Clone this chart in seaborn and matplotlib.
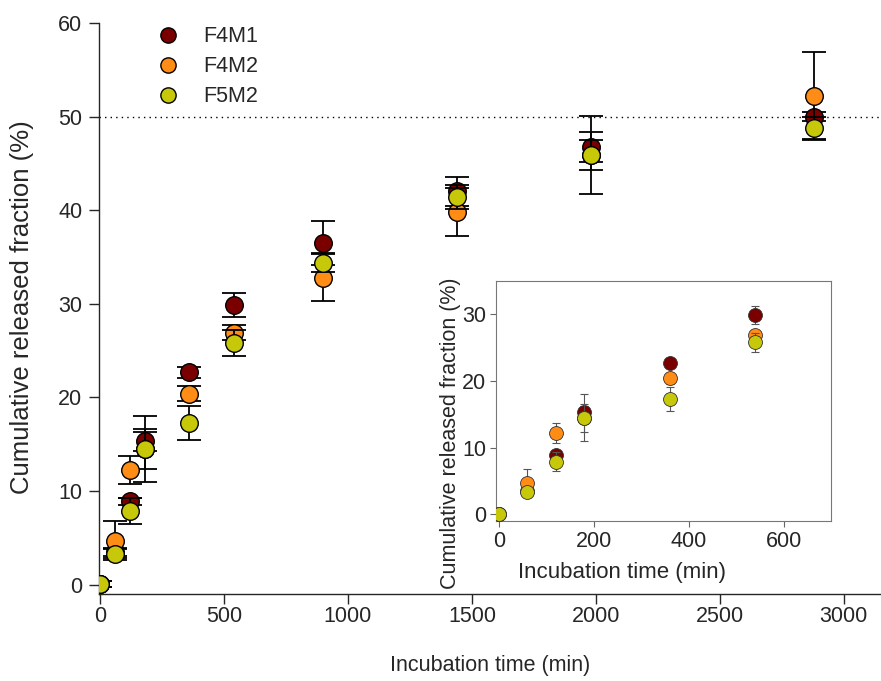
import numpy as np
import pandas as pd
import matplotlib
matplotlib.use("Agg")
import matplotlib.pyplot as plt
import seaborn as sns

# ---- data ----
time = [0, 60, 120, 180, 360, 540, 900, 1440, 1980, 2880]
series = ["F4M1", "F4M2", "F5M2"]
F4M1 = [0.1, 3.5, 8.9, 15.3, 22.7, 29.9, 36.5, 42.0, 46.8, 50.0]
F4M1_err = [0.3, 0.4, 0.4, 1.0, 0.6, 1.3, 2.4, 1.6, 1.6, 0.5]
F4M2 = [0.1, 4.7, 12.2, 14.5, 20.4, 26.9, 32.8, 39.8, 45.9, 52.2]
F4M2_err = [0.3, 2.1, 1.5, 2.1, 0.8, 0.8, 2.5, 2.6, 4.2, 4.7]
F5M2 = [0.1, 3.3, 7.9, 14.5, 17.3, 25.8, 34.4, 41.4, 45.9, 48.8]
F5M2_err = [0.3, 0.5, 1.4, 3.5, 1.8, 1.4, 1.0, 1.3, 1.6, 1.2]
colors = {"F4M1": "#7a0000", "F4M2": "#ff8c14", "F5M2": "#c8c80a"}

vals = {"F4M1": (F4M1, F4M1_err), "F4M2": (F4M2, F4M2_err), "F5M2": (F5M2, F5M2_err)}
rows = []
for s in series:
    v, e = vals[s]
    for t, y, er in zip(time, v, e):
        rows.append({"time": t, "value": y, "err": er, "series": s})
df = pd.DataFrame(rows)

sns.set_style("ticks")
plt.rcParams['font.family'] = ['Liberation Sans', 'DejaVu Sans']
FS = 15.5

fig = plt.figure(figsize=(8.81, 6.81), dpi=100)
ax = fig.add_axes([99 / 881, 1 - 594 / 681, 782 / 881, (594 - 23) / 681])

for i, s in enumerate(series):
    d = df[df.series == s]
    ax.errorbar(d.time, d.value, yerr=d.err, fmt="none", ecolor="black",
                elinewidth=1.3, capsize=8.5, capthick=1.3, zorder=2 + 2 * i)
    sns.scatterplot(data=d, x="time", y="value", ax=ax, color=colors[s],
                    edgecolor="black", linewidth=1.0, s=160, zorder=3 + 2 * i,
                    legend=False)

ax.axhline(50, color="black", linestyle=(0, (1, 3)), linewidth=1.0, zorder=1)
ax.set_xlim(-4, 3150)
ax.set_ylim(-1, 60)
ax.set_xticks([0, 500, 1000, 1500, 2000, 2500, 3000])
ax.set_yticks([0, 10, 20, 30, 40, 50, 60])
ax.tick_params(labelsize=FS, length=7, width=1, direction="out")
ax.tick_params(axis="x", pad=2)
ax.tick_params(axis="y", pad=5)
for sp in ["top", "right"]:
    ax.spines[sp].set_visible(False)
for sp in ["left", "bottom"]:
    ax.spines[sp].set_linewidth(1.0)
ax.set_xlabel("Incubation time (min)", fontsize=FS)
ax.set_ylabel("Cumulative released fraction (%)", fontsize=18.5)
ax.xaxis.set_label_coords((490 - 99) / 782, (594 - 655) / 571)
ax.yaxis.set_label_coords((34 - 99) / 782, (594 - 307) / 571)

handles = [plt.Line2D([], [], marker="o", linestyle="none", markersize=11,
                      markerfacecolor=colors[s], markeredgecolor="black",
                      markeredgewidth=1.0) for s in series]
ax.legend(handles, series, loc="upper left", bbox_to_anchor=(0.036, 1.028),
          frameon=False, fontsize=FS, handletextpad=0.65, labelspacing=0.42)

# ---- inset ----
ins = fig.add_axes([496 / 881, 1 - 521 / 681, 335 / 881, 240 / 681])
dfi = df[df.time <= 600]
for i, s in enumerate(series):
    d = dfi[dfi.series == s]
    ins.errorbar(d.time, d.value, yerr=d.err, fmt="none", ecolor="#555555",
                 elinewidth=0.8, capsize=3, capthick=0.8, zorder=2 + 2 * i)
    sns.scatterplot(data=d, x="time", y="value", ax=ins, color=colors[s],
                    edgecolor="#333333", linewidth=0.6, s=100, zorder=3 + 2 * i,
                    legend=False)
ins.set_xlim(-6, 700)
ins.set_ylim(-1, 35)
ins.set_xticks([0, 200, 400, 600])
ins.set_yticks([0, 10, 20, 30])
ins.tick_params(labelsize=FS, length=4, width=0.8, color="#666666", pad=3)
for sp in ins.spines.values():
    sp.set_linewidth(0.8)
    sp.set_color("#777777")
ins.set_xlabel("Incubation time (min)", fontsize=FS + 0.5)
ins.set_ylabel("Cumulative released fraction (%)", fontsize=FS)
ins.xaxis.set_label_coords((622 - 496) / 335, (521 - 562) / 240)
ins.yaxis.set_label_coords((461 - 496) / 335, (521 - 433) / 240)

fig.savefig("out.png", dpi=100)
